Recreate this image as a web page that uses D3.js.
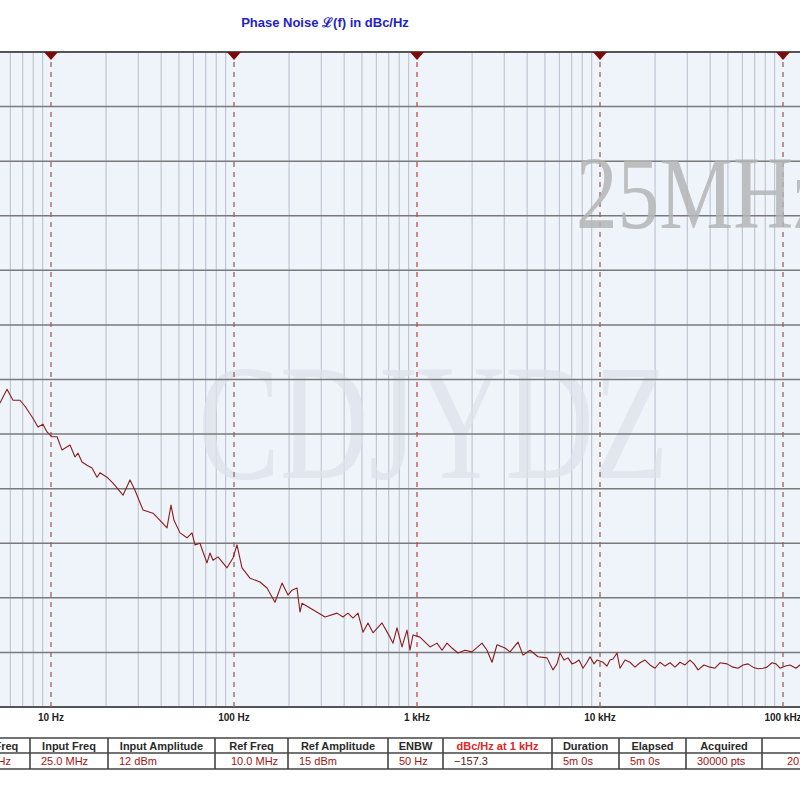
<!DOCTYPE html>
<html>
<head>
<meta charset="utf-8">
<script src="https://cdn.jsdelivr.net/npm/d3@7"></script>
<style>
  html, body { margin: 0; padding: 0; background: #fff; }
  svg { display: block; font-family: "Liberation Sans", Arial, sans-serif; }
</style>
</head>
<body>
<div id="chart"></div>
<script>
// offset frequency (Hz) and phase noise (dBc/Hz)
const offsetHz = [4.88, 5.26, 5.75, 6.2, 6.77, 7.21, 7.97, 8.49, 9.04, 9.51, 10.13, 10.79, 11.48, 12.7, 13.53, 14.05, 14.77, 15.73, 16.75, 17.84, 18.53, 20.23, 21.82, 24.74, 27.02, 28.77, 31.82, 36.08, 39.41, 43.03, 45.26, 46.99, 50.69, 55.36, 58.95, 61.22, 65.2, 67.71, 71.19, 73.93, 76.78, 81.76, 91.56, 98.74, 103.8, 110.6, 122.3, 138.7, 151.5, 167.5, 183, 197.3, 207.5, 220.9, 229.4, 235.3, 270.2, 314.4, 365.5, 394, 419.6, 446.9, 476, 506.9, 539.8, 574.9, 643.9, 711.9, 739.4, 777.4, 827.9, 881.7, 915.6, 951, 1038, 1178, 1286, 1370, 1459, 1553, 1675, 1829, 1998, 2265, 2413, 2569, 2736, 3026, 3223, 3564, 3795, 4145, 4584, 5133, 5537, 5821, 6046, 6359, 6685, 7031, 7302, 7679, 8074, 8492, 8817, 9274, 9630, 10385, 10920, 11340, 11780, 12385, 12860, 13700, 14585, 15530, 16545, 17620, 18762, 19980, 21280, 22660, 24130, 25690, 27370, 29140, 31030, 32640, 34320, 37010, 39920, 42500, 45260, 49430, 53320, 56770, 60460, 64380, 68580, 73030, 77750, 81780, 87090, 91560, 96300, 103200, 109200, 117800, 123800, 140500]
const phaseNoise = [-115.6, -114.3, -111.8, -113.8, -113.8, -114.9, -117.1, -118.7, -118.2, -119.6, -120.5, -120.5, -122.9, -122.0, -124.2, -123.5, -125.1, -125.7, -126.2, -127.9, -127.1, -127.9, -129.0, -131.2, -128.4, -130.3, -133.9, -134.5, -135.8, -137.2, -133.0, -135.8, -138.1, -139.0, -138.1, -140.3, -140.0, -141.6, -143.6, -141.8, -143.1, -142.5, -144.5, -142.7, -140.3, -144.5, -146.4, -147.1, -148.2, -150.8, -147.3, -149.5, -148.6, -148.2, -152.6, -151.0, -152.2, -153.5, -152.8, -153.5, -152.8, -153.7, -152.8, -156.3, -154.6, -156.4, -154.6, -157.2, -158.3, -155.5, -159.0, -155.9, -159.6, -156.8, -157.2, -159.0, -158.3, -159.6, -158.3, -159.2, -160.1, -159.6, -159.9, -158.3, -159.6, -161.8, -158.6, -159.2, -159.9, -158.1, -160.5, -159.6, -160.8, -161.0, -163.2, -162.1, -160.1, -161.4, -161.0, -162.1, -161.9, -161.4, -162.9, -161.8, -160.8, -162.1, -161.4, -161.8, -162.5, -161.4, -161.2, -160.1, -162.9, -161.4, -161.8, -162.7, -161.9, -161.4, -162.3, -162.9, -161.8, -162.5, -161.9, -162.7, -161.8, -162.3, -161.4, -162.1, -163.2, -162.3, -162.7, -162.9, -161.9, -162.1, -162.7, -162.9, -162.3, -162.1, -162.7, -163.0, -162.9, -162.7, -161.9, -162.1, -162.9, -162.5, -162.3, -162.9, -162.3, -162.6]

const decades = [10, 100, 1000, 10000, 100000]
const decadeLabels = ["10 Hz", "100 Hz", "1 kHz", "10 kHz", "100 kHz"]
const dbTicks = [-170, -160, -150, -140, -130, -120, -110, -100, -90, -80, -70, -60, -50]

const tableEdges = [-52, 30, 108, 215, 288, 388, 443, 552, 619, 686, 762, 880]
const tableHeads = ["Offset Freq", "Input Freq", "Input Amplitude", "Ref Freq", "Ref Amplitude", "ENBW", "dBc/Hz at 1 kHz", "Duration", "Elapsed", "Acquired", ""]
const tableVals = ["1 Hz - 1 MHz", "25.0 MHz", "12 dBm", "10.0 MHz", "15 dBm", "50 Hz", "\u2212157.3", "5m 0s", "5m 0s", "30000 pts", "2022-04-18 10:21"]

const width = 800
const height = 800
const plot = {top: 52, bottom: 707}

const x = d3.scaleLog()
    .domain([1, 1e6])
    .range([-132, 966])

const y = d3.scaleLinear()
    .domain([-170, -50])
    .range([plot.bottom, plot.top])

const svg = d3.select("#chart").append("svg")
    .attr("width", width)
    .attr("height", height)

// plot background
svg.append("rect")
    .attr("x", 0).attr("y", plot.top)
    .attr("width", width).attr("height", plot.bottom - plot.top)
    .attr("fill", "#eff3fa")

// minor log gridlines
const minor = x.ticks().filter(t => !decades.includes(t) && x(t) > -2 && x(t) < width + 2)
svg.append("g").selectAll("line")
  .data(minor)
  .join("line")
    .attr("x1", d => x(d)).attr("x2", d => x(d))
    .attr("y1", plot.top).attr("y2", plot.bottom)
    .attr("stroke", "#c0c8d3")
    .attr("stroke-width", 1.2)

// faint watermark
svg.append("text")
    .attr("transform", "translate(198,478) scale(0.74,1)")
    .attr("font-family", "Liberation Serif, Times New Roman, serif")
    .attr("font-size", 166)
    .attr("fill", "#dde2e9")
    .attr("fill-opacity", 0.75)
    .text("CDJYDZ")

// horizontal gridlines
svg.append("g").selectAll("line")
  .data(dbTicks)
  .join("line")
    .attr("x1", 0).attr("x2", width)
    .attr("y1", d => y(d)).attr("y2", d => y(d))
    .attr("stroke", d => d === -50 || d === -170 ? "#555" : "#7a7a7a")
    .attr("stroke-width", d => d === -50 || d === -170 ? 2 : 1.5)

// decade marker lines
svg.append("g").selectAll("line")
  .data(decades)
  .join("line")
    .attr("x1", d => x(d)).attr("x2", d => x(d))
    .attr("y1", plot.top).attr("y2", plot.bottom)
    .attr("stroke", d => d === 1000 ? "#d24848" : "#9a6262")
    .attr("stroke-width", 1.3)
    .attr("stroke-dasharray", "5,5")

svg.append("g").selectAll("path")
  .data(decades)
  .join("path")
    .attr("d", d => `M${x(d) - 7},${plot.top}L${x(d) + 7},${plot.top}L${x(d)},${plot.top + 8}Z`)
    .attr("fill", "#7d0a0a")

svg.append("text")
    .attr("transform", "translate(576,228) scale(0.8,1)")
    .attr("font-family", "Liberation Serif, Times New Roman, serif")
    .attr("font-size", 104)
    .attr("fill", "#b4b4b4")
    .attr("fill-opacity", 0.85)
    .text("25MHz")

// trace
const line = d3.line()
    .x((d, i) => x(offsetHz[i]))
    .y(d => y(d))

svg.append("path")
    .datum(phaseNoise)
    .attr("d", line)
    .attr("fill", "none")
    .attr("stroke", "#8c1c1c")
    .attr("stroke-width", 1.1)
    .attr("stroke-linejoin", "round")

// title
svg.append("text")
    .attr("x", 325).attr("y", 27)
    .attr("text-anchor", "middle")
    .attr("font-size", 13)
    .attr("font-weight", "bold")
    .attr("fill", "#1f23c4")
    .text("Phase Noise \u2112(f) in dBc/Hz")

// x labels
svg.append("g").selectAll("text")
  .data(decades)
  .join("text")
    .attr("x", d => x(d)).attr("y", 721)
    .attr("text-anchor", "middle")
    .attr("font-size", 10)
    .attr("font-weight", "bold")
    .attr("fill", "#222")
    .text((d, i) => decadeLabels[i])

// info table
const rowTop = 738, rowMid = 753, rowBot = 769
const tbl = svg.append("g")
tbl.append("rect")
    .attr("x", 0).attr("y", rowTop).attr("width", width).attr("height", rowBot - rowTop)
    .attr("fill", "#fff")
tbl.selectAll("line.h")
  .data([rowTop, rowMid, rowBot])
  .join("line")
    .attr("x1", 0).attr("x2", width)
    .attr("y1", d => d).attr("y2", d => d)
    .attr("stroke", "#444").attr("stroke-width", 1.6)
tbl.selectAll("line.v")
  .data(tableEdges.slice(1, -1))
  .join("line")
    .attr("x1", d => d).attr("x2", d => d)
    .attr("y1", rowTop).attr("y2", rowBot)
    .attr("stroke", "#444").attr("stroke-width", 1.6)

tbl.selectAll("text.head")
  .data(tableHeads)
  .join("text")
    .attr("x", (d, i) => (tableEdges[i] + tableEdges[i + 1]) / 2)
    .attr("y", rowTop + 11.5)
    .attr("text-anchor", "middle")
    .attr("font-size", 11)
    .attr("font-weight", "bold")
    .attr("fill", (d, i) => i === 6 ? "#e02626" : "#2a2a2a")
    .text(d => d)

tbl.selectAll("text.val")
  .data(tableVals)
  .join("text")
    .attr("x", (d, i) => i === 0 ? 11 : i === 3 ? 231 : i === 10 ? 787 : tableEdges[i] + 11)
    .attr("y", rowMid + 12)
    .attr("text-anchor", (d, i) => i === 0 ? "end" : "start")
    .attr("font-size", 11)
    .attr("fill", (d, i) => i === 6 ? "#5a2020" : "#a01414")
    .text(d => d)
</script>
</body>
</html>
